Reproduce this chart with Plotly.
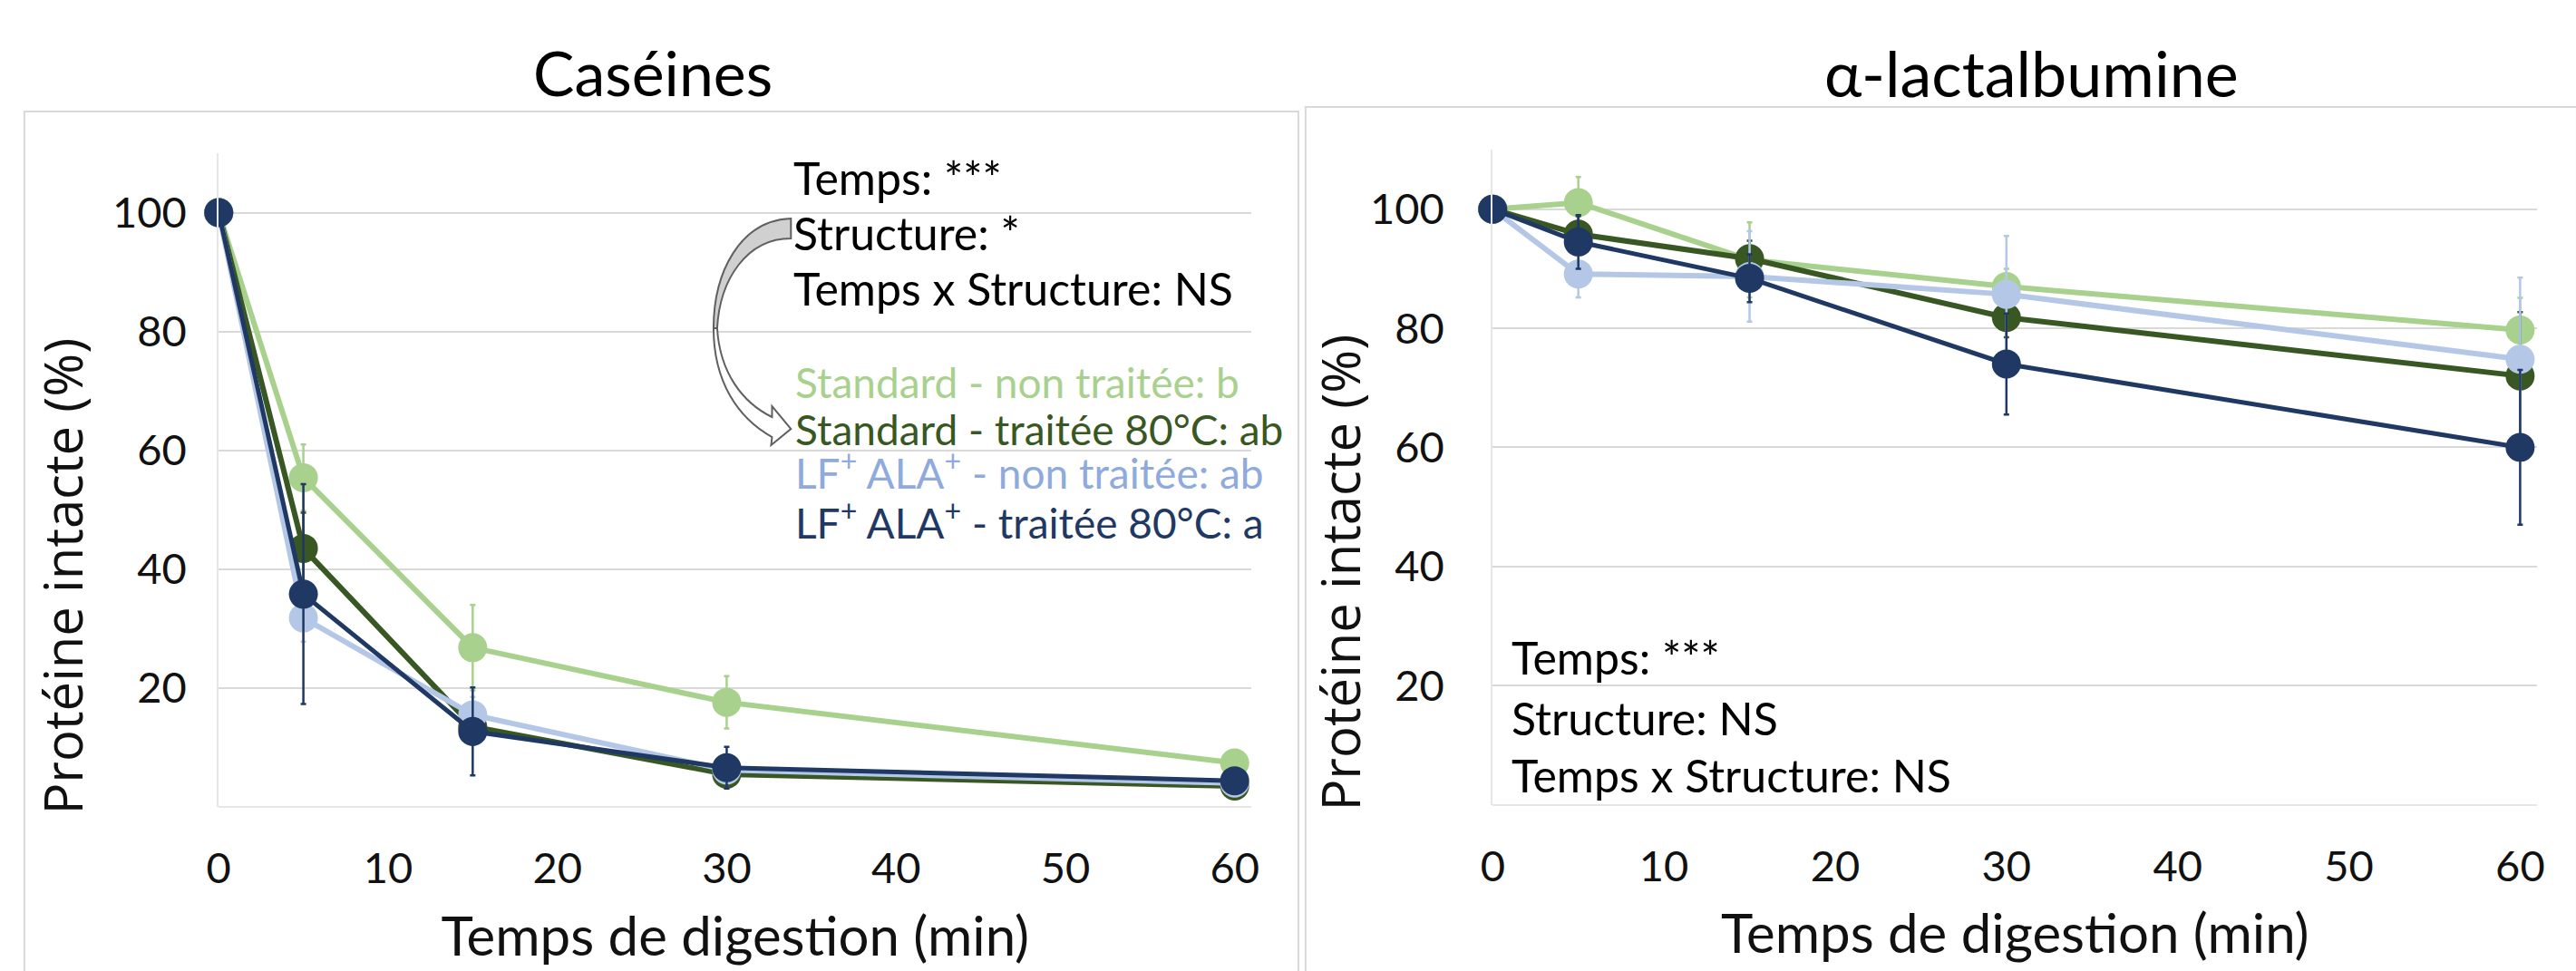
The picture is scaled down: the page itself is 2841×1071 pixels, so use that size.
import plotly.graph_objects as go

W, H = 2841, 1071

# ---------------- data ----------------
time_min = [0, 5, 15, 30, 60]
series_names = [
    "Standard - non traitée",
    "Standard - traitée 80°C",
    "LF+ ALA+ - non traitée",
    "LF+ ALA+ - traitée 80°C",
]
series_colors = ["#A9D18E", "#385723", "#B4C7E7", "#1F3864"]

# Caséines (% protéine intacte)
cas_std_nt = [100, 55.4, 26.8, 17.6, 7.4]
cas_std_t = [100, 43.5, 13.5, 5.5, 3.5]
cas_lf_nt = [100, 31.8, 15.5, 6.2, 4.0]
cas_lf_t = [100, 35.8, 12.7, 6.6, 4.4]
cas_err_std_nt = [0, 5.6, 7.2, 4.4, 0.8]
cas_err_std_t = [0, 6.0, 3.0, 1.0, 0.5]
cas_err_lf_nt = [0, 4.0, 3.0, 1.0, 0.5]
cas_err_lf_t = [0, 18.5, 7.4, 3.5, 0.8]

# alpha-lactalbumine
ala_std_nt = [100, 101.1, 91.5, 87.0, 79.7]
ala_std_t = [100, 95.8, 91.7, 81.8, 72.0]
ala_lf_nt = [100, 89.1, 88.7, 85.7, 74.8]
ala_lf_t = [100, 94.5, 88.4, 74.0, 60.0]
ala_err_std_nt = [0, 4.3, 6.3, 3.0, 5.4]
ala_err_std_t = [0, 3.0, 3.0, 3.3, 10.7]
ala_err_lf_nt = [0, 3.9, 7.6, 9.8, 13.7]
ala_err_lf_t = [0, 4.5, 4.0, 8.5, 13.0]

x_ticks = [0, 10, 20, 30, 40, 50, 60]
y_ticks = [20, 40, 60, 80, 100]

panel_titles = ["Caséines", "α-lactalbumine"]
x_title = "Temps de digestion (min)"
y_title = "Protéine intacte (%)"

cas_stats = ["Temps: ***", "Structure: *", "Temps x Structure: NS"]
cas_letters = [
    "Standard - non traitée: b",
    "Standard - traitée 80°C: ab",
    "LF<sup>+</sup> ALA<sup>+</sup> - non traitée: ab",
    "LF<sup>+</sup> ALA<sup>+</sup> - traitée 80°C: a",
]
letter_colors = ["#A9D18E", "#385723", "#8FAADC", "#1F3864"]
ala_stats = ["Temps: ***", "Structure: NS", "Temps x Structure: NS"]

# ---------------- helpers ----------------
def px(x):
    return x / W

def py(y):
    return 1 - y / H

TICK_FONT = dict(family="Lato, Carlito, sans-serif", size=47, color="#111111")
TEXT_FONT = "Lato, sans-serif"

fig = go.Figure()

cas_vals = [cas_std_nt, cas_std_t, cas_lf_nt, cas_lf_t]
cas_errs = [cas_err_std_nt, cas_err_std_t, cas_err_lf_nt, cas_err_lf_t]
ala_vals = [ala_std_nt, ala_std_t, ala_lf_nt, ala_lf_t]
ala_errs = [ala_err_std_nt, ala_err_std_t, ala_err_lf_nt, ala_err_lf_t]
line_widths = [6, 6, 6, 5]

for (vals, errs, xa, ya) in [(cas_vals, cas_errs, "x", "y"), (ala_vals, ala_errs, "x2", "y2")]:
    for i in range(4):
        fig.add_trace(go.Scatter(
            x=time_min, y=vals[i], xaxis=xa, yaxis=ya,
            mode="lines+markers", name=series_names[i], showlegend=False,
            line=dict(color=series_colors[i], width=line_widths[i]),
            marker=dict(color=series_colors[i], size=32, line=dict(width=0)),
            error_y=dict(type="data", array=errs[i], visible=True,
                         color=series_colors[i], thickness=2.5, width=3),
            cliponaxis=False, hoverinfo="skip",
        ))

common_x = dict(range=[0, 61], tickvals=x_ticks, showgrid=False, zeroline=False,
                showline=False, ticks="", tickfont=TICK_FONT, ticklabelstandoff=36,
                title=dict(text=x_title, font=dict(family=TEXT_FONT, size=60, color="#111111"),
                           standoff=28))
common_y = dict(range=[0, 110], tickvals=y_ticks, showgrid=True, gridcolor="#D9D9D9",
                gridwidth=2, zeroline=True, zerolinecolor="#E6E6E6", zerolinewidth=2,
                showline=True, linecolor="#E6E6E6", linewidth=2, ticks="",
                tickfont=TICK_FONT)

fig.update_layout(
    width=W, height=H, margin=dict(l=0, r=0, t=0, b=0),
    paper_bgcolor="white", plot_bgcolor="white",
    xaxis=dict(domain=[px(229), px(1377)], anchor="y", **common_x),
    yaxis=dict(domain=[py(890), py(169)], anchor="x", ticklabelstandoff=24, **common_y),
    xaxis2=dict(domain=[px(1645), px(2806)], anchor="y2", **common_x),
    yaxis2=dict(domain=[py(887.6), py(165)], anchor="x2", ticklabelstandoff=42, **common_y),
)

# panel borders
fig.add_shape(type="rect", xref="paper", yref="paper", x0=px(13), x1=px(1429),
              y0=py(1080), y1=py(123), line=dict(color="#D9D9D9", width=2), layer="below")
fig.add_shape(type="rect", xref="paper", yref="paper", x0=px(1437), x1=px(2850),
              y0=py(1080), y1=py(118), line=dict(color="#D9D9D9", width=2), layer="below")

ann = []
# panel titles
ann.append(dict(text=panel_titles[0], x=px(712), y=py(80), xref="paper", yref="paper",
                showarrow=False, xanchor="center", yanchor="middle",
                font=dict(family=TEXT_FONT, size=68, color="#000000")))
ann.append(dict(text=panel_titles[1], x=px(2244), y=py(80), xref="paper", yref="paper",
                showarrow=False, xanchor="center", yanchor="middle",
                font=dict(family=TEXT_FONT, size=70, color="#000000")))
# y titles
for xc, yc in [(54, 636), (1474, 632)]:
    ann.append(dict(text=y_title, x=px(xc), y=py(yc), xref="paper", yref="paper",
                    showarrow=False, xanchor="center", yanchor="middle", textangle=-90,
                    font=dict(family="Open Sans, sans-serif", size=58, color="#111111")))

# stats text - Caséines
for t, yc in zip(cas_stats, [196, 257, 318]):
    ann.append(dict(text=t, x=px(866), y=py(yc), xref="paper", yref="paper",
                    showarrow=False, xanchor="left", yanchor="middle",
                    font=dict(family=TEXT_FONT, size=50, color="#000000")))
for t, c, yc in zip(cas_letters, letter_colors, [422, 473, 518, 573]):
    ann.append(dict(text=t, x=px(868), y=py(yc), xref="paper", yref="paper",
                    showarrow=False, xanchor="left", yanchor="middle",
                    font=dict(family=TEXT_FONT, size=46, color=c)))
# stats text - alpha-lactalbumine
for t, yc in zip(ala_stats, [725, 792, 855]):
    ann.append(dict(text=t, x=px(1664), y=py(yc), xref="paper", yref="paper",
                    showarrow=False, xanchor="left", yanchor="middle",
                    font=dict(family=TEXT_FONT, size=50, color="#000000")))
fig.update_layout(annotations=ann)

# curved arrow (decoration) in pixel space converted to paper
DX, DY = -4, -4
def path(points_cmds):
    out = []
    for cmd, pts in points_cmds:
        coords = " ".join(f"{px(x + DX):.5f},{py(y + DY):.5f}" for x, y in pts)
        out.append(f"{cmd} {coords}")
    return " ".join(out) + " Z"

lower = path([
    ("M", [(783, 366)]),
    ("C", [(783, 425), (810, 465), (848, 486)]),
    ("L", [(847, 495)]),
    ("L", [(869, 477)]),
    ("L", [(848, 452)]),
    ("L", [(848, 464)]),
    ("C", [(815, 448), (790, 415), (787, 366)]),
])
upper = path([
    ("M", [(869, 245)]),
    ("C", [(812, 247), (783, 305), (783, 366)]),
    ("L", [(787, 366)]),
    ("C", [(790, 312), (820, 267), (869, 267)]),
])
fig.add_shape(type="path", xref="paper", yref="paper", path=lower,
              fillcolor="white", line=dict(color="#606060", width=2))
fig.add_shape(type="path", xref="paper", yref="paper", path=upper,
              fillcolor="#D0D0D0", line=dict(color="#606060", width=2))

fig.write_html("out.html", config={"displayModeBar": False},
               post_script="document.body.style.margin='0';")
